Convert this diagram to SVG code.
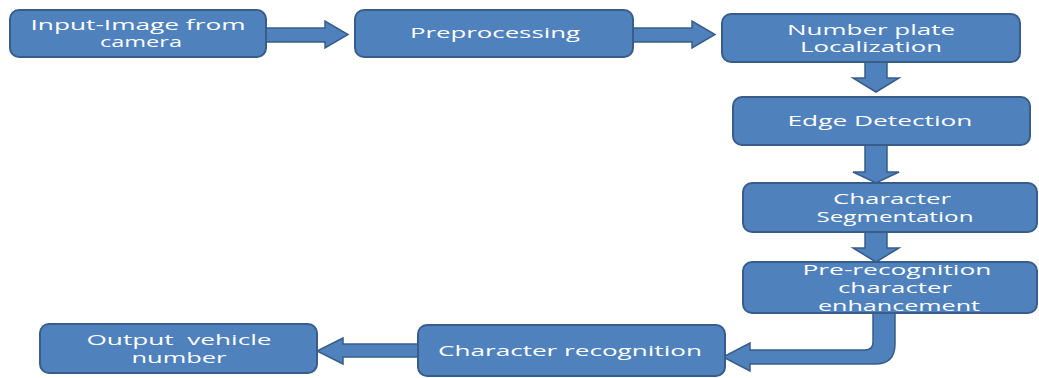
<svg xmlns="http://www.w3.org/2000/svg" width="1039" height="378" viewBox="0 0 1039 378">
<style>
.box{fill:#4f81bd;stroke:#385d8a;stroke-width:2}
.arr{fill:#4f81bd;stroke:#385d8a;stroke-width:1.5;stroke-linejoin:miter}
.t{fill:#ffffff;font-family:"Open Sans","Liberation Sans",sans-serif;font-size:14px;text-anchor:middle}
</style>
<rect width="1039" height="378" fill="#ffffff"/>
<g id="connectors">
<polygon class="arr" points="266,28 325,28 325,21 348,34.5 325,48 325,42 266,42"/>
<polygon class="arr" points="633,28 692,28 692,21 715,34.5 692,48 692,42 633,42"/>
<polygon class="arr" points="865,62 887,62 887,78 899,78 876,92 853,78 865,78"/>
<polygon class="arr" points="865,145 887,145 887,172 899,172 876,183 853,172 865,172"/>
<polygon class="arr" points="865,232 887,232 887,248 899,248 876,262 853,248 865,248"/>
<path class="arr" d="M873,313 L873,342 Q873,350 865,350 L750,350 L750,343 L723,357 L750,371 L750,364 L875,364 Q895,364 895,344 L895,313 Z"/>
<polygon class="arr" points="418,344 343,344 343,338 317,351 343,364 343,357 418,357"/>
</g>
<g id="n1">
<rect class="box" x="10" y="10" width="256" height="47" rx="9"/>
<text class="t" x="138" y="30" textLength="215" lengthAdjust="spacingAndGlyphs">Input-Image from</text>
<text class="t" x="141" y="47" textLength="82" lengthAdjust="spacingAndGlyphs">camera</text>
</g>
<g id="n2">
<rect class="box" x="355" y="10" width="278" height="47" rx="9"/>
<text class="t" x="495" y="38" textLength="170" lengthAdjust="spacingAndGlyphs">Preprocessing</text>
</g>
<g id="n3">
<rect class="box" x="722" y="14" width="298" height="48" rx="9"/>
<text class="t" x="871" y="35" textLength="168" lengthAdjust="spacingAndGlyphs">Number plate</text>
<text class="t" x="871" y="52" textLength="142" lengthAdjust="spacingAndGlyphs">Localization</text>
</g>
<g id="n4">
<rect class="box" x="733" y="97" width="297" height="48" rx="9"/>
<text class="t" x="880" y="126" textLength="185" lengthAdjust="spacingAndGlyphs">Edge Detection</text>
</g>
<g id="n5">
<rect class="box" x="743" y="183" width="294" height="49" rx="9"/>
<text class="t" x="892" y="204" textLength="118" lengthAdjust="spacingAndGlyphs">Character</text>
<text class="t" x="895" y="222" textLength="157" lengthAdjust="spacingAndGlyphs">Segmentation</text>
</g>
<g id="n6">
<rect class="box" x="743" y="262" width="294" height="51" rx="9"/>
<text class="t" x="897" y="275" textLength="189" lengthAdjust="spacingAndGlyphs">Pre-recognition</text>
<text class="t" x="895" y="293" textLength="114" lengthAdjust="spacingAndGlyphs">character</text>
<text class="t" x="899" y="311" textLength="162" lengthAdjust="spacingAndGlyphs">enhancement</text>
</g>
<g id="n7">
<rect class="box" x="418" y="325" width="307" height="51" rx="9"/>
<text class="t" x="570" y="356" textLength="264" lengthAdjust="spacingAndGlyphs">Character recognition</text>
</g>
<g id="n8">
<rect class="box" x="40" y="324" width="277" height="49" rx="9"/>
<text class="t" x="179" y="345" textLength="185" lengthAdjust="spacingAndGlyphs" style="white-space:pre" xml:space="preserve">Output  vehicle</text>
<text class="t" x="179" y="363" textLength="95" lengthAdjust="spacingAndGlyphs">number</text>
</g>
</svg>
